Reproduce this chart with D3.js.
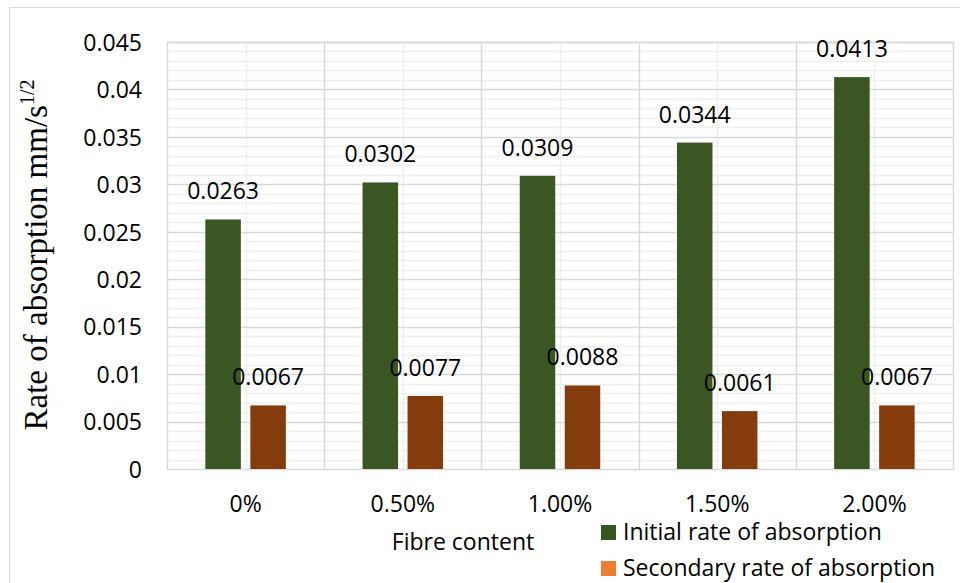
<!DOCTYPE html>
<html>
<head>
<meta charset="utf-8">
<script src="https://cdn.jsdelivr.net/npm/d3@7"></script>
<style>
  html, body { margin: 0; padding: 0; background: #fff; }
  svg { display: block; }
  text { font-family: "Open Sans", "Noto Sans", sans-serif; fill: #000; }
</style>
</head>
<body>
<svg id="chart" width="960" height="583"></svg>
<script>
// Fibre content categories and absorption rates (mm/s^1/2)
const categories = ["0%", "0.50%", "1.00%", "1.50%", "2.00%"];
const seriesNames = ["Initial rate of absorption", "Secondary rate of absorption"];
const initialRate = [0.0263, 0.0302, 0.0309, 0.0344, 0.0413];
const secondaryRate = [0.0067, 0.0077, 0.0088, 0.0061, 0.0067];
const yTicks = [0, 0.005, 0.01, 0.015, 0.02, 0.025, 0.03, 0.035, 0.04, 0.045];
const yTickLabels = ["0", "0.005", "0.01", "0.015", "0.02", "0.025", "0.03", "0.035", "0.04", "0.045"];

const barColors = ["#3A5623", "#843C0C"];
const legendColors = ["#375623", "#ED7D31"];

const svg = d3.select("#chart");
const plot = { left: 167, top: 42, right: 953, bottom: 469 };
const fontSize = 23;

// outer chart frame
svg.append("rect")
  .attr("x", 9.5).attr("y", 7.5).attr("width", 980).attr("height", 600)
  .attr("fill", "#fff").attr("stroke", "#d9d9d9").attr("stroke-width", 1);

const x = d3.scaleBand().domain(categories).range([plot.left, plot.right]).padding(0);
const y = d3.scaleLinear().domain([0, 0.045]).range([plot.bottom, plot.top]);

// grouped bars inside each category
const step = 45, gap = 9.5;
const pInner = gap / step;
const pOuter = (x.bandwidth() / step - 2 + pInner) / 2;
const xSub = d3.scaleBand().domain(seriesNames).range([0, x.bandwidth()])
  .paddingInner(pInner).paddingOuter(pOuter);

// minor horizontal gridlines
const minorTicks = d3.range(1, 45).filter(i => i % 5 !== 0).map(i => i * 0.001);
svg.append("g").selectAll("line").data(minorTicks).join("line")
  .attr("x1", plot.left).attr("x2", plot.right)
  .attr("y1", d => Math.round(y(d)) + 0.5).attr("y2", d => Math.round(y(d)) + 0.5)
  .attr("stroke", "#efefef").attr("stroke-width", 1.5);

// minor vertical gridlines at category centres
svg.append("g").selectAll("line").data(categories).join("line")
  .attr("x1", d => Math.round(x(d) + x.bandwidth() / 2) + 0.5)
  .attr("x2", d => Math.round(x(d) + x.bandwidth() / 2) + 0.5)
  .attr("y1", plot.top).attr("y2", plot.bottom)
  .attr("stroke", "#efefef").attr("stroke-width", 1.5);

// major horizontal gridlines
svg.append("g").selectAll("line").data(yTicks.slice(1)).join("line")
  .attr("x1", plot.left).attr("x2", plot.right)
  .attr("y1", d => Math.round(y(d)) + 0.5).attr("y2", d => Math.round(y(d)) + 0.5)
  .attr("stroke", "#d9d9d9").attr("stroke-width", 1.5);

// major vertical gridlines at category boundaries
svg.append("g").selectAll("line").data(categories.slice(1)).join("line")
  .attr("x1", d => Math.round(x(d)) + 0.5).attr("x2", d => Math.round(x(d)) + 0.5)
  .attr("y1", plot.top).attr("y2", plot.bottom)
  .attr("stroke", "#d9d9d9").attr("stroke-width", 1.5);

// plot area border
svg.append("rect")
  .attr("x", plot.left + 0.5).attr("y", plot.top + 0.5)
  .attr("width", plot.right - plot.left).attr("height", plot.bottom - plot.top)
  .attr("fill", "none").attr("stroke", "#d9d9d9").attr("stroke-width", 1.5);

// bars and value labels
const seriesData = [initialRate, secondaryRate];
seriesData.forEach((values, s) => {
  const g = svg.append("g");
  g.selectAll("rect").data(values).join("rect")
    .attr("x", (d, i) => x(categories[i]) + xSub(seriesNames[s]))
    .attr("y", d => y(d))
    .attr("width", xSub.bandwidth())
    .attr("height", d => y(0) - y(d))
    .attr("fill", barColors[s]);
  g.selectAll("text").data(values).join("text")
    .attr("x", (d, i) => x(categories[i]) + xSub(seriesNames[s]) + xSub.bandwidth() / 2)
    .attr("y", d => y(d) - 20)
    .attr("text-anchor", "middle")
    .attr("font-size", fontSize)
    .text(d => String(d));
});

// y axis labels
const yAxis = d3.axisLeft(y).tickValues(yTicks)
  .tickFormat((d, i) => yTickLabels[i]).tickSize(0).tickPadding(0);
const yg = svg.append("g").attr("transform", `translate(142,0)`).call(yAxis);
yg.select(".domain").remove();
yg.selectAll("text").attr("font-size", fontSize)
  .attr("font-family", "'Open Sans', sans-serif").attr("fill", "#000").attr("dy", "0.36em");

// x axis labels
const xAxis = d3.axisBottom(x).tickSize(0).tickPadding(0);
const xg = svg.append("g").attr("transform", `translate(0,${plot.bottom})`).call(xAxis);
xg.select(".domain").remove();
xg.selectAll("text").attr("font-size", fontSize)
  .attr("font-family", "'Open Sans', sans-serif").attr("fill", "#000")
  .attr("y", 43).attr("dy", 0);

// axis titles
svg.append("text")
  .attr("x", 463).attr("y", 550)
  .attr("text-anchor", "middle").attr("font-size", fontSize)
  .text("Fibre content");

const yTitle = svg.append("text")
  .attr("transform", "translate(47,255) rotate(-90)")
  .attr("text-anchor", "middle")
  .style("font-family", "'Liberation Serif', 'Times New Roman', serif")
  .attr("font-size", 33);
yTitle.append("tspan").text("Rate of absorption mm/s");
yTitle.append("tspan").attr("font-size", 20).attr("dy", -13).text("1/2");

// legend
const legend = svg.append("g");
seriesNames.forEach((name, i) => {
  const ly = 540 + i * 36;
  legend.append("rect")
    .attr("x", 601).attr("y", ly - 15).attr("width", 15).attr("height", 15)
    .attr("fill", legendColors[i]);
  legend.append("text")
    .attr("x", 623).attr("y", ly)
    .attr("font-size", fontSize)
    .text(name);
});
</script>
</body>
</html>
